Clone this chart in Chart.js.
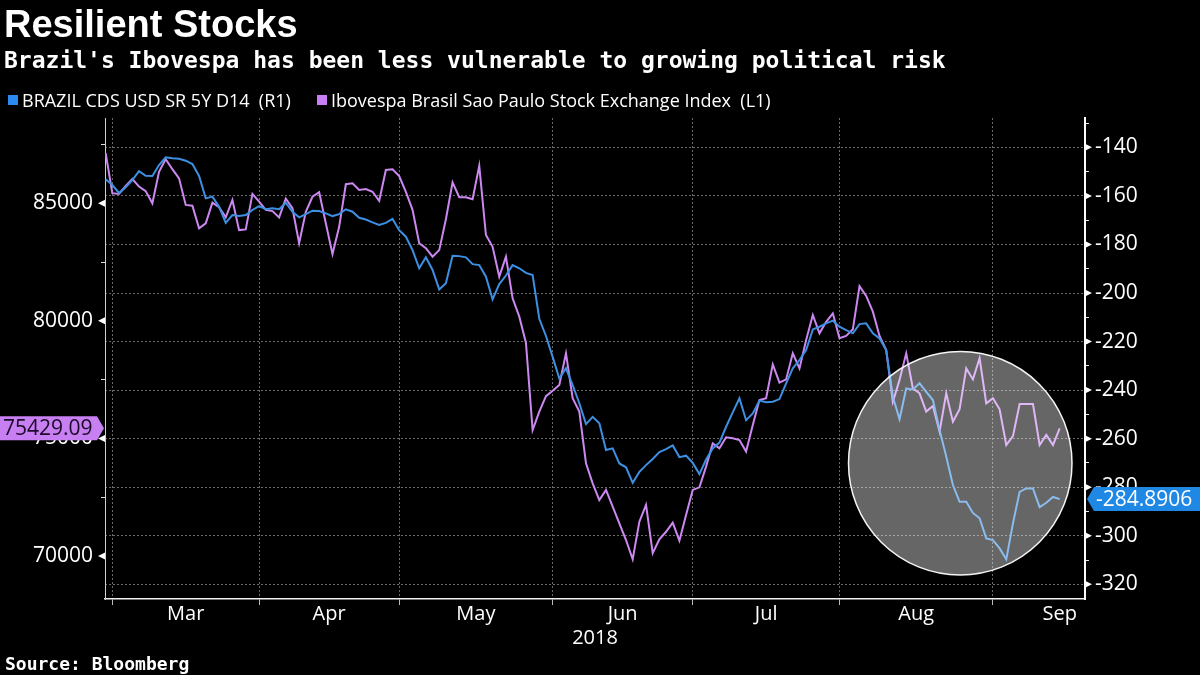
<!DOCTYPE html>
<html>
<head>
<meta charset="utf-8">
<script src="https://cdn.jsdelivr.net/npm/chart.js@4.4.1/dist/chart.umd.min.js"></script>
<style>
html,body{margin:0;padding:0;background:#000;width:1200px;height:675px;overflow:hidden;}
#wrap{position:relative;width:1200px;height:675px;background:#000;}
#c{position:absolute;left:0;top:0;}
.t{position:absolute;color:#fff;white-space:pre;}
#title{left:4px;top:5px;font:700 38px "Liberation Sans";line-height:38px;}
#subtitle{left:4px;top:49px;font:700 23px "DejaVu Sans Mono";line-height:23px;}
.lg{position:absolute;top:91px;font:400 18px "Open Sans";line-height:18px;color:#fff;white-space:pre;}
.sw{position:absolute;top:95px;width:10px;height:10px;}
#source{left:5px;top:655px;font:700 18px "DejaVu Sans Mono";line-height:18px;}
</style>
</head>
<body>
<div id="wrap">
<canvas id="c" width="1200" height="675"></canvas>
<div class="t" id="title">Resilient Stocks</div>
<div class="t" id="subtitle">Brazil's Ibovespa has been less vulnerable to growing political risk</div>
<div class="sw" id="sw0" style="left:8px;background:#2a8af0"></div>
<div class="lg" id="lg0" style="left:22px"></div>
<div class="sw" id="sw1" style="left:317px;background:#c87ef5"></div>
<div class="lg" id="lg1" style="left:331px"></div>
<div class="t" id="source">Source: Bloomberg</div>
</div>
<script>
// ---------------- DATA ----------------
const START_DATE = '2018-02-28';
const END_DATE = '2018-09-17';
const monthStartDates = ['2018-03-01','2018-04-01','2018-05-01','2018-06-01','2018-07-01','2018-08-01','2018-09-01','2018-10-01'];
const monthLabels = ['Mar','Apr','May','Jun','Jul','Aug','Sep'];
const yearLabel = '2018';
const seriesNames = ['BRAZIL CDS USD SR 5Y D14  (R1)', 'Ibovespa Brasil Sao Paulo Stock Exchange Index  (L1)'];

// left axis ticks (labelled every 5000) and right axis ticks (labelled every 20)
const leftTicks = [70000, 72500, 75000, 77500, 80000, 82500, 85000, 87500];
const leftLabelled = [70000, 75000, 80000, 85000];
const rightTicks = [-320,-310,-300,-290,-280,-270,-260,-250,-240,-230,-220,-210,-200,-190,-180,-170,-160,-150,-140,-130];
const rightLabelled = [-320,-300,-280,-260,-240,-220,-200,-180,-160,-140];

// BRAZIL CDS (negated), right axis, one value per weekday
const cdsValues = [
 -153.1,-155.5,-158.8,-156.4,-153.5,-149.8,-151.7,-151.8,-147.3,-144.1,
 -144.5,-144.7,-145.5,-146.9,-151.8,-161.0,-160.3,-164.5,-171.1,-167.9,
 -168.3,-167.9,-165.8,-164.2,-165.5,-165.1,-165.5,-162.8,-166.5,-168.8,
 -167.5,-166.1,-166.2,-167.2,-168.3,-167.5,-165.5,-166.5,-169.0,-169.7,
 -170.9,-172.0,-171.1,-169.5,-174.1,-176.8,-182.3,-189.8,-185.3,-190.5,
 -198.5,-196.0,-184.7,-184.8,-185.3,-188.1,-188.5,-193.3,-202.6,-196.3,
 -192.8,-188.5,-189.8,-191.7,-192.6,-210.6,-217.7,-226.3,-235.2,-231.0,
 -237.9,-245.4,-254.0,-251.0,-253.7,-264.7,-264.0,-270.2,-271.8,-278.2,
 -273.7,-270.9,-268.4,-265.5,-264.3,-262.8,-267.6,-267.0,-270.0,-274.6,
 -268.6,-264.0,-261.6,-255.1,-249.2,-243.4,-252.4,-249.6,-244.3,-245.0,
 -244.8,-243.7,-237.2,-231.0,-227.6,-223.5,-215.0,-213.9,-212.5,-211.4,
 -213.9,-215.3,-216.6,-212.8,-212.5,-216.6,-218.7,-223.5,-242.7,-252.0,
 -239.3,-239.7,-237.2,-240.7,-244.1,-256.4,-267.4,-279.1,-286.0,-286.0,
 -290.6,-292.8,-301.1,-301.8,-305.2,-309.7,-294.9,-281.9,-280.5,-280.5,
 -288.2,-286.4,-284.0,-284.8906
];

// Ibovespa, left axis, one value per weekday
const ibovValues = [
 87130,85430,85400,85740,86030,85710,85520,85000,86340,86880,
 86450,86060,84930,84900,83940,84150,85030,84830,84400,85140,
 83860,83890,85400,85070,84720,84670,84400,85200,84790,83300,
 84640,85280,85470,84150,82840,84000,85810,85850,85570,85610,
 85490,85100,86420,86450,86160,85490,84720,83300,83090,82730,
 83010,84320,85890,85260,85260,85170,86590,83650,83150,81880,
 82730,80960,80180,79060,75360,76140,76800,77030,77270,78620,
 76710,76140,73940,73090,72380,72810,72100,71390,70680,69860,
 71460,72170,70120,70710,71030,71420,70650,71740,72810,72920,
 73800,74790,74580,75050,75010,74930,74440,75570,76630,76710,
 78150,77370,77510,78620,77980,79190,80250,79470,79960,80320,
 79260,79360,79640,81480,81060,80390,79360,78760,76560,77490,
 78620,77130,76920,76140,76380,75290,76920,75710,76240,77980,
 77510,78410,76490,76710,76240,74720,75100,76460,76460,76460,
 74720,75150,74720,75429.09
];

// highlight circle, anchored in data space (weekday index, right-axis value)
const highlight = { centerIndex: 128.1, centerValue: -270.1, radiusDays: 16.75 };

// axis ranges
const leftRange = { min: 68171, max: 88628 };
const rightRange = { min: -326.05, max: -127.9 };
const xRange = { min: -0.1, max: 146.8 };

// ---------------- helpers ----------------
function weekdayList(start, endExclusive) {
  const out = [];
  const d = new Date(start + 'T00:00:00Z');
  const e = new Date(endExclusive + 'T00:00:00Z');
  while (d < e) {
    const w = d.getUTCDay();
    if (w !== 0 && w !== 6) out.push(d.toISOString().slice(0, 10));
    d.setUTCDate(d.getUTCDate() + 1);
  }
  return out;
}
function nextDay(s){ const d=new Date(s+'T00:00:00Z'); d.setUTCDate(d.getUTCDate()+1); return d.toISOString().slice(0,10); }
const dates = weekdayList(START_DATE, nextDay(END_DATE));
const weekdayIndex = s => weekdayList(START_DATE, s).length;
const boundaries = monthStartDates.map(weekdayIndex);
const monthBounds = boundaries.slice(0, monthLabels.length);
const monthMids = monthLabels.map((m, i) => (boundaries[i] + boundaries[i + 1]) / 2);
const near = (a, b) => Math.abs(a - b) < 1e-6;
const isBoundary = v => monthBounds.some(b => near(b, v));
const labelForX = v => { const i = monthMids.findIndex(m => near(m, v)); return i >= 0 ? monthLabels[i] : ''; };
const isLeftMajor = v => leftLabelled.some(b => near(b, v));
const isRightMajor = v => rightLabelled.some(b => near(b, v));

document.getElementById('lg0').textContent = seriesNames[0];
document.getElementById('lg1').textContent = seriesNames[1];

const BLUE = '#3d8fe2';
const PURPLE = '#cc88f0';
const GRID = '#6a6a6a';
const FONT = 'Open Sans';

const overlay = {
  id: 'overlay',
  afterDatasetsDraw(chart) {
    const { ctx, scales: { x, yR } } = chart;
    const cx = x.getPixelForValue(highlight.centerIndex);
    const cy = yR.getPixelForValue(highlight.centerValue);
    const r = x.getPixelForValue(highlight.centerIndex + highlight.radiusDays) - cx;
    ctx.save();
    ctx.beginPath();
    ctx.arc(cx, cy, r, 0, Math.PI * 2);
    ctx.fillStyle = 'rgba(255,255,255,0.40)';
    ctx.fill();
    ctx.lineWidth = 1.5;
    ctx.strokeStyle = 'rgba(255,255,255,0.95)';
    ctx.stroke();
    ctx.restore();
  },
  afterDraw(chart) {
    const { ctx, chartArea: ca, scales: { yL, yR } } = chart;
    ctx.save();
    ctx.fillStyle = '#ffffff';
    leftLabelled.forEach(v => {
      const y = yL.getPixelForValue(v);
      ctx.beginPath(); ctx.moveTo(ca.left, y - 3.5); ctx.lineTo(ca.left, y + 3.5); ctx.lineTo(ca.left - 7, y); ctx.closePath(); ctx.fill();
    });
    rightLabelled.forEach(v => {
      const y = yR.getPixelForValue(v);
      ctx.beginPath(); ctx.moveTo(ca.right, y - 3.5); ctx.lineTo(ca.right, y + 3.5); ctx.lineTo(ca.right + 7, y); ctx.closePath(); ctx.fill();
    });
    // last value tags
    const lastI = ibovValues[ibovValues.length - 1];
    const lastC = cdsValues[cdsValues.length - 1];
    let y = yL.getPixelForValue(lastI);
    ctx.fillStyle = '#c77ff2';
    ctx.beginPath();
    ctx.moveTo(0, y - 12); ctx.lineTo(ca.left - 8, y - 12); ctx.lineTo(ca.left - 1, y); ctx.lineTo(ca.left - 8, y + 12); ctx.lineTo(0, y + 12); ctx.closePath(); ctx.fill();
    ctx.fillStyle = '#1c0a28';
    ctx.font = '21px "' + FONT + '"';
    ctx.textBaseline = 'middle';
    ctx.textAlign = 'left';
    ctx.fillText(lastI.toFixed(2), 3, y + 1);
    y = yR.getPixelForValue(lastC);
    ctx.fillStyle = '#1f88e5';
    ctx.beginPath();
    ctx.moveTo(ca.right + 2, y); ctx.lineTo(ca.right + 9, y - 12); ctx.lineTo(1200, y - 12); ctx.lineTo(1200, y + 12); ctx.lineTo(ca.right + 9, y + 12); ctx.closePath(); ctx.fill();
    ctx.fillStyle = '#ffffff';
    ctx.fillText(lastC.toFixed(4), ca.right + 11, y + 1);
    ctx.restore();
  }
};

new Chart(document.getElementById('c'), {
  type: 'line',
  data: {
    labels: dates,
    datasets: [
      { label: seriesNames[0], data: cdsValues.map((v, i) => ({ x: i, y: v })), yAxisID: 'yR',
        borderColor: BLUE, borderWidth: 2, pointRadius: 0, tension: 0, fill: false },
      { label: seriesNames[1], data: ibovValues.map((v, i) => ({ x: i, y: v })), yAxisID: 'yL',
        borderColor: PURPLE, borderWidth: 2, pointRadius: 0, tension: 0, fill: false }
    ]
  },
  options: {
    responsive: false,
    animation: false,
    devicePixelRatio: 1,
    layout: { padding: { top: 118, left: 0, right: 0, bottom: 0 } },
    plugins: { legend: { display: false }, tooltip: { enabled: false }, title: { display: false } },
    scales: {
      x: {
        type: 'linear', position: 'bottom', min: xRange.min, max: xRange.max,
        afterBuildTicks: s => { s.ticks = monthBounds.concat(monthMids).sort((a, b) => a - b).map(v => ({ value: v })); },
        afterFit: s => { s.height = 76; },
        ticks: { autoSkip: false, maxRotation: 0, color: '#ffffff', font: { family: FONT, size: 20 }, padding: -3,
                 callback: v => labelForX(v) },
        grid: { drawOnChartArea: true, lineWidth: 1, tickLength: 6,
                color: c => (c.tick && isBoundary(c.tick.value)) ? GRID : 'rgba(0,0,0,0)',
                tickColor: c => (c.tick && isBoundary(c.tick.value)) ? '#bbbbbb' : 'rgba(0,0,0,0)' },
        border: { display: true, color: '#f0f0f0', width: 1.5, dash: [2, 2] },
        title: { display: true, text: yearLabel, color: '#ffffff', font: { family: FONT, size: 20 }, padding: { top: 0, bottom: 25 } }
      },
      yL: {
        type: 'linear', position: 'left', min: leftRange.min, max: leftRange.max,
        afterBuildTicks: s => { s.ticks = leftTicks.map(v => ({ value: v })); },
        afterFit: s => { s.width = 105; },
        ticks: { autoSkip: false, color: '#ffffff', font: { family: FONT, size: 21 }, padding: 8,
                 callback: v => isLeftMajor(v) ? String(v) : '' },
        grid: { drawOnChartArea: false, tickLength: 4, tickColor: '#dddddd' },
        border: { display: true, color: '#cfcfcf', width: 1 }
      },
      yR: {
        type: 'linear', position: 'right', min: rightRange.min, max: rightRange.max,
        afterBuildTicks: s => { s.ticks = rightTicks.map(v => ({ value: v })); },
        afterFit: s => { s.width = 115; },
        ticks: { autoSkip: false, color: '#ffffff', font: { family: FONT, size: 21 }, padding: 6,
                 callback: v => isRightMajor(v) ? String(v) : '' },
        grid: { drawOnChartArea: true, lineWidth: 1, tickLength: 4, tickColor: '#eeeeee',
                color: c => (c.tick && isRightMajor(c.tick.value)) ? GRID : 'rgba(0,0,0,0)' },
        border: { display: true, color: '#ffffff', width: 2, dash: [2, 2] }
      }
    }
  },
  plugins: [overlay]
});
</script>
</body>
</html>
